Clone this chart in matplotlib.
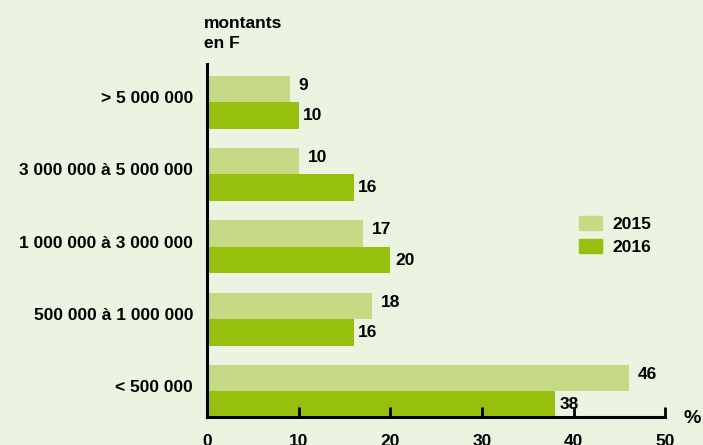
import matplotlib.pyplot as plt
import numpy as np
from matplotlib.patches import Patch

# Data
categories = ['< 500 000', '500 000 à 1 000 000', '1 000 000 à 3 000 000',
              '3 000 000 à 5 000 000', '> 5 000 000']
values_2015 = [46, 18, 17, 10, 9]
values_2016 = [38, 16, 20, 16, 10]
years = ['2015', '2016']

bg = '#ebf3e1'
light = '#c6da86'
dark = '#97bf0d'

fig = plt.figure(figsize=(7.03, 4.45), dpi=100, facecolor=bg)
ax = fig.add_axes([0.2945, 0.063, 0.652, 0.793], facecolor=bg)

y = np.arange(len(categories))
h = 0.366
ax.barh(y + h / 2, values_2015, height=h, color=light)
ax.barh(y - h / 2, values_2016, height=h, color=dark)

font = 'Liberation Sans'
fs = 12.5
for yy, v in zip(y + h / 2, values_2015):
    ax.text(v + 1.0, yy + 0.05, str(v), va='center', ha='left',
            fontsize=fs, fontweight='bold', family=font)
for yy, v in zip(y - h / 2, values_2016):
    ax.text(v + 0.5, yy, str(v), va='center', ha='left',
            fontsize=fs, fontweight='bold', family=font)

ax.set_xlim(0, 50)
ax.set_ylim(-0.352, 4.525)
ax.set_yticks(y + 0.07)
ax.set_yticklabels(categories, fontsize=fs, fontweight='bold', family=font)
ax.tick_params(axis='y', length=0, pad=10)
ax.set_xticks([0, 10, 20, 30, 40, 50])
ax.set_xticklabels(['0', '10', '20', '30', '40', '50'], fontsize=fs,
                   fontweight='bold', family=font)
ax.tick_params(axis='x', direction='in', length=7, width=2, pad=12)

for s in ['top', 'right']:
    ax.spines[s].set_visible(False)
for s in ['left', 'bottom']:
    ax.spines[s].set_linewidth(2.2)
ax.spines['bottom'].set_bounds(0, 50)

fig.text(0.290, 0.925, 'montants\nen F', ha='left', va='center', fontsize=fs,
         fontweight='bold', family=font, linespacing=1.4)
fig.text(0.984, 0.06, '%', ha='center', va='center', fontsize=14,
         fontweight='bold', family=font)

handles = [Patch(color=light), Patch(color=dark)]
fig.legend(handles, years, loc='center left', bbox_to_anchor=(0.802, 0.471),
           frameon=False, prop={'family': font, 'weight': 'bold', 'size': fs},
           handlelength=1.32, handleheight=0.92, handletextpad=0.6, labelspacing=0.38)

fig.savefig('out.png', dpi=100, facecolor=bg)
